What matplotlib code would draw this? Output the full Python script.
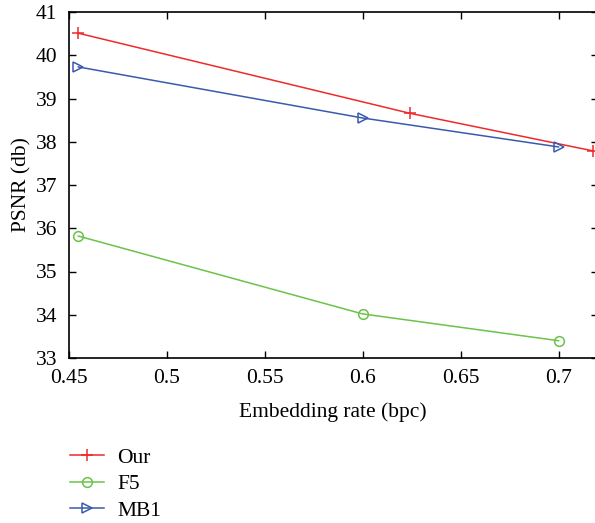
import matplotlib
matplotlib.use("Agg")
import matplotlib.pyplot as plt
from matplotlib.lines import Line2D

plt.rcParams['font.family'] = ['Liberation Serif', 'DejaVu Serif']

our_x = [0.455, 0.624, 0.7175]
our_y = [40.51, 38.66, 37.79]
f5_x = [0.455, 0.600, 0.700]
f5_y = [35.82, 34.02, 33.40]
mb1_x = [0.455, 0.600, 0.700]
mb1_y = [39.73, 38.55, 37.88]
xticks = [0.45, 0.5, 0.55, 0.6, 0.65, 0.7]
xticklabels = ['0.45', '0.5', '0.55', '0.6', '0.65', '0.7']
yticks = [33, 34, 35, 36, 37, 38, 39, 40, 41]

W, H = 595, 523
fig = plt.figure(figsize=(W/100, H/100), dpi=100)
left, right, top, bottom = 68.5, 597.7, 12, 358
ax = fig.add_axes([left/W, 1-bottom/H, (right-left)/W, (bottom-top)/H])

red = '#ee2a2a'
green = '#6cc24a'
blue = '#3a5aad'

l1, = ax.plot(our_x, our_y, color=red, lw=1.1, marker='+', ms=9, mew=1.1)
l2, = ax.plot(f5_x, f5_y, color=green, lw=1.1, marker='o', ms=7, mfc='none', mew=1.1)
l3, = ax.plot(mb1_x, mb1_y, color=blue, lw=1.1, marker='>', ms=7.5, mfc='none', mew=1.1)

fs = 15.5
ax.set_xlim(0.45, 0.72)
ax.set_ylim(33, 41)
ax.set_xticks(xticks)
ax.set_xticklabels(xticklabels)
ax.set_yticks(yticks)
ax.tick_params(direction='in', top=True, right=True, labelsize=fs, length=5, width=1)
ax.tick_params(axis='x', pad=8)
ax.tick_params(axis='y', pad=8)
for s in ax.spines.values():
    s.set_linewidth(1.2)

ax.set_xlabel('Embedding rate (bpc)', fontsize=fs, labelpad=10)
ax.set_ylabel('PSNR (db)', fontsize=fs, labelpad=3)

fig.legend([l1, l2, l3], ['Our', 'F5', 'MB1'], loc='upper left',
           bbox_to_anchor=(61/W, 1-439/H), frameon=False, fontsize=fs,
           handlelength=1.6, labelspacing=0.3, handletextpad=0.6, borderaxespad=0)

fig.savefig('out.png', dpi=100)
